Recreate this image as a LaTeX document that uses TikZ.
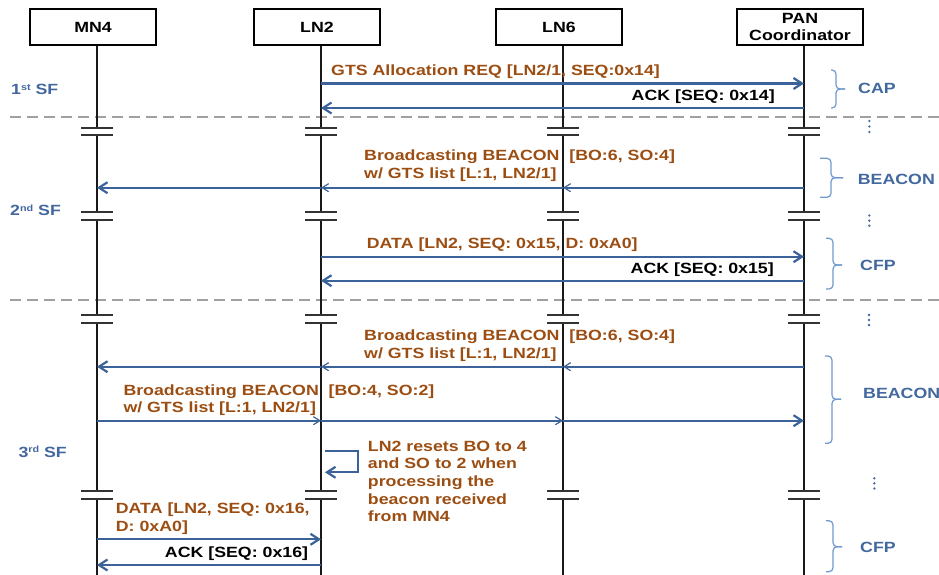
\documentclass[tikz,border=0pt]{standalone}
\usepackage{fontspec}
\setmainfont{Liberation Sans}[FakeStretch=1.2]
\usetikzlibrary{arrows.meta}
\definecolor{arrowblue}{RGB}{59,99,153}
\definecolor{msgbrown}{RGB}{156,78,18}
\definecolor{lblblue}{RGB}{66,104,158}
\definecolor{braceblue}{RGB}{112,152,206}
\definecolor{sepgray}{RGB}{160,160,160}
\newcommand\supsc[1]{\raisebox{4.5pt}{\fontsize{9}{9}\selectfont #1}}
\newcommand\phbrace[6]{%
  \draw[bracez] (#1,#4) -- (#2,#4) -- (#2,#5) -- (#3,#5);
  \draw[bracez] (#1,#6) -- (#2,#6) -- (#2,#5) -- (#3,#5);}
\tikzset{
  every node/.style={font=\fontsize{14.8}{17.7}\selectfont\bfseries, inner sep=0pt},
  entity/.style={draw=black, line width=1.9pt, minimum width=126pt, minimum height=36pt, align=center, fill=white},
  life/.style={line width=2.1pt, black!90},
  breakbar/.style={line width=2pt, black!80},
  msg/.style={line width=2.3pt, arrowblue, -{Straight Barb[length=8.5pt,width=11pt,line width=2.2pt]}},
  msgmid/.style={line width=2.3pt, arrowblue, -{Straight Barb[length=6.5pt,width=8pt,line width=1.2pt]}},
  brownlbl/.style={text=msgbrown, align=left},
  blacklbl/.style={text=black},
  sflbl/.style={text=lblblue},
  phaselbl/.style={text=lblblue},
  sep/.style={line width=2pt, sepgray, dash pattern=on 11pt off 6pt},
  bracez/.style={line width=1.2pt, braceblue, rounded corners=4pt},
}
\begin{document}
\begin{tikzpicture}[x=1pt,y=-1pt]
\useasboundingbox (0,0) rectangle (939,575);
% lifeline x positions
\coordinate (mn) at (97,0);
\coordinate (ln2) at (321,0);
\coordinate (ln6) at (563,0);
\coordinate (pan) at (804,0);
% entity boxes
\node[entity] (bmn) at (93,27) {MN4};
\node[entity] (bln2) at (317,27) {LN2};
\node[entity] (bln6) at (559,27) {LN6};
\node[entity] (bpan) at (800,27) {PAN\\Coordinator};
% separators
\draw[sep] (10,117) -- (939,117);
\draw[sep] (10,300) -- (939,300);
% lifelines with breaks
\foreach \c in {mn,ln2,ln6,pan}{
  \draw[life] (\c |- b\c.south) -- (\c |- 0,128);
  \draw[life] (\c |- 0,135) -- (\c |- 0,212);
  \draw[life] (\c |- 0,219.5) -- (\c |- 0,315);
  \draw[life] (\c |- 0,322.5) -- (\c |- 0,490.5);
  \draw[life] (\c |- 0,498.5) -- (\c |- 0,575);
  \foreach \y in {128,135,212,219.5,315,322.5,490.5,498.5}
    \draw[breakbar] ([xshift=-16pt]\c |- 0,\y) -- ([xshift=16pt]\c |- 0,\y);
}
% 1st SF
\draw[msg] (ln2 |- 0,83.5) -- (pan |- 0,83.5);
\node[brownlbl, anchor=base west] (t1) at (331,76) {GTS Allocation REQ [LN2/1, SEQ:0x14]};
\draw[msg] (pan |- 0,108) -- (ln2 |- 0,108);
\node[blacklbl, anchor=base east] (t2) at (775,101) {ACK [SEQ: 0x14]};
% 2nd SF
\draw[msgmid] (pan |- 0,187.7) -- (ln6 |- 0,187.7);
\draw[msgmid] (ln6 |- 0,187.7) -- (ln2 |- 0,187.7);
\draw[msg] (ln2 |- 0,187.7) -- (mn |- 0,187.7);
\node[brownlbl, anchor=north west] (t3) at (364,149.5) {Broadcasting BEACON~~[BO:6, SO:4]\\w/ GTS list [L:1, LN2/1]};
\draw[msg] (ln2 |- 0,256.7) -- (pan |- 0,256.7);
\node[brownlbl, anchor=base west] (t4) at (366.7,248) {DATA [LN2, SEQ: 0x15, D: 0xA0]};
\draw[msg] (pan |- 0,280.7) -- (ln2 |- 0,280.7);
\node[blacklbl, anchor=base east] (t5) at (774,273.5) {ACK [SEQ: 0x15]};
% 3rd SF
\draw[msgmid] (pan |- 0,366.7) -- (ln6 |- 0,366.7);
\draw[msgmid] (ln6 |- 0,366.7) -- (ln2 |- 0,366.7);
\draw[msg] (ln2 |- 0,366.7) -- (mn |- 0,366.7);
\node[brownlbl, anchor=north west] (t6) at (364,329.5) {Broadcasting BEACON~~[BO:6, SO:4]\\w/ GTS list [L:1, LN2/1]};
\draw[msgmid] (mn |- 0,420.7) -- (ln2 |- 0,420.7);
\draw[msgmid] (ln2 |- 0,420.7) -- (ln6 |- 0,420.7);
\draw[msg] (ln6 |- 0,420.7) -- (pan |- 0,420.7);
\node[brownlbl, anchor=north west] (t7) at (123.3,384.2) {Broadcasting BEACON~~[BO:4, SO:2]\\w/ GTS list [L:1, LN2/1]};
\draw[msg] ([xshift=4pt]ln2 |- 0,451) -- (358,451) -- (358,472.3) -- ([xshift=4pt]ln2 |- 0,472.3);
\node[brownlbl, anchor=north west] (t8) at (367.7,440.5) {LN2 resets BO to 4\\and SO to 2 when\\processing the\\beacon received\\from MN4};
\draw[msg] (mn |- 0,539.3) -- (ln2 |- 0,539.3);
\node[brownlbl, anchor=north west] (t9) at (115.7,503) {DATA [LN2, SEQ: 0x16,\\D: 0xA0]};
\draw[msg] (ln2 |- 0,565) -- (mn |- 0,565);
\node[blacklbl, anchor=base east] (t10) at (308.3,557.4) {ACK [SEQ: 0x16]};
% superframe labels
\node[sflbl, anchor=base west] (sf1) at (11,94.7) {1\supsc{st} SF};
\node[sflbl, anchor=base west] (sf2) at (10,215.7) {2\supsc{nd} SF};
\node[sflbl, anchor=base west] (sf3) at (18.3,457) {3\supsc{rd} SF};
% phase braces and labels
\phbrace{831}{836}{845}{70}{89}{108}
\phbrace{820}{831}{843}{158.3}{177.7}{197.3}
\phbrace{826}{833}{842}{238.3}{265}{289}
\phbrace{825}{832}{841}{356}{399.3}{443.3}
\phbrace{826}{833}{842}{520.7}{546.7}{571.7}
\node[phaselbl, anchor=base west] (p1) at (858,94) {CAP};
\node[phaselbl, anchor=base west] (p2) at (857.7,184.4) {BEACON};
\node[phaselbl, anchor=base west] (p3) at (860,270) {CFP};
\node[phaselbl, anchor=base west] (p4) at (863,398.5) {BEACON};
\node[phaselbl, anchor=base west] (p5) at (860,552.7) {CFP};
% vertical ellipses
\foreach \x/\y in {869.3/121, 869.3/126.5, 869.3/132,
                   869.3/215.5, 869.3/220.7, 869.3/225.7,
                   869/315, 869/320, 869/325,
                   874.3/478.3, 874.3/483.3, 874.3/488.5}
  \fill[lblblue] (\x,\y) circle (1.3pt);
\end{tikzpicture}
\end{document}
